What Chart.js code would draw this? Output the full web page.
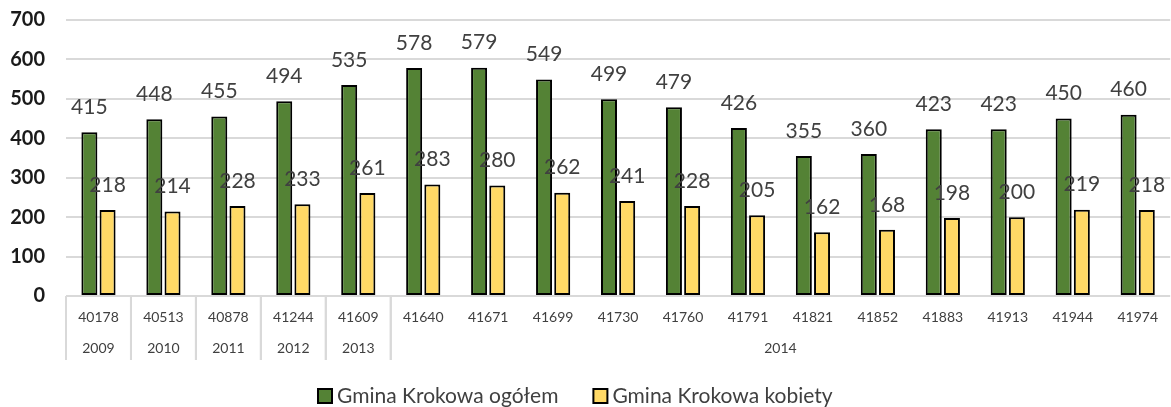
<!DOCTYPE html>
<html><head><meta charset="utf-8">
<script src="https://cdn.jsdelivr.net/npm/chart.js@4/dist/chart.umd.min.js"></script>
<style>html,body{margin:0;padding:0;background:#fff}</style>
</head><body>
<canvas id="c" width="1171" height="407"></canvas>
<script>
const categories = ['40178','40513','40878','41244','41609','41640','41671','41699','41730','41760','41791','41821','41852','41883','41913','41944','41974'];
const years = ['2009','2010','2011','2012','2013','2014','2014','2014','2014','2014','2014','2014','2014','2014','2014','2014','2014'];
const seriesNames = ['Gmina Krokowa ogółem','Gmina Krokowa kobiety'];
const totalValues = [415,448,455,494,535,578,579,549,499,479,426,355,360,423,423,450,460];
const womenValues = [218,214,228,233,261,283,280,262,241,228,205,162,168,198,200,219,218];

const FONT = 'Lato, "Open Sans", sans-serif';

const dataLabels = {
  id: 'dataLabels',
  afterDatasetsDraw(chart) {
    const ctx = chart.ctx;
    ctx.save();
    ctx.font = '21px ' + FONT;
    ctx.fillStyle = '#404040';
    ctx.textAlign = 'center';
    ctx.textBaseline = 'middle';
    chart.data.datasets.forEach((ds, di) => {
      chart.getDatasetMeta(di).data.forEach((el, i) => {
        ctx.fillText(String(ds.data[i]), el.x, el.y - 25);
      });
    });
    ctx.restore();
  }
};

const yearRow = {
  id: 'yearRow',
  afterDraw(chart) {
    const x = chart.scales.x;
    const ctx = chart.ctx;
    const half = (x.getPixelForValue(1) - x.getPixelForValue(0)) / 2;
    const groups = [];
    years.forEach((y, i) => {
      const g = groups[groups.length - 1];
      if (g && g.label === y) g.to = i; else groups.push({label: y, from: i, to: i});
    });
    ctx.save();
    ctx.strokeStyle = '#d9d9d9';
    ctx.lineWidth = 2;
    ctx.font = '14px ' + FONT;
    ctx.fillStyle = '#404040';
    ctx.textAlign = 'center';
    ctx.textBaseline = 'middle';
    const top = chart.chartArea.bottom;
    groups.forEach(g => {
      const left = x.getPixelForValue(g.from) - half;
      const right = x.getPixelForValue(g.to) + half;
      ctx.beginPath();
      ctx.moveTo(left, top);
      ctx.lineTo(left, top + 64);
      ctx.stroke();
      if (g.to < categories.length - 1) {
        ctx.beginPath();
        ctx.moveTo(right, top);
        ctx.lineTo(right, top + 64);
        ctx.stroke();
      }
      ctx.fillText(g.label, (left + right) / 2, top + 52);
    });
    ctx.restore();
  }
};

const bottomLegend = {
  id: 'bottomLegend',
  afterDraw(chart) {
    const ctx = chart.ctx;
    ctx.save();
    ctx.font = '21px ' + FONT;
    ctx.textBaseline = 'middle';
    ctx.textAlign = 'left';
    let x = 318;
    const cy = 396;
    chart.data.datasets.forEach(ds => {
      ctx.fillStyle = ds.backgroundColor;
      ctx.fillRect(x, cy - 7, 14, 14);
      ctx.strokeStyle = '#000';
      ctx.lineWidth = 2;
      ctx.strokeRect(x, cy - 7, 14, 14);
      ctx.fillStyle = '#404040';
      ctx.fillText(ds.label, x + 19, cy);
      x += 19 + ctx.measureText(ds.label).width + 35;
    });
    ctx.restore();
  }
};

new Chart(document.getElementById('c'), {
  type: 'bar',
  data: {
    labels: categories,
    datasets: [
      {label: seriesNames[0], data: totalValues, backgroundColor: '#548235', borderColor: '#000000', borderWidth: 2, borderSkipped: false, categoryPercentage: 0.56, barPercentage: 0.88},
      {label: seriesNames[1], data: womenValues, backgroundColor: '#FFD966', borderColor: '#000000', borderWidth: 2, borderSkipped: false, categoryPercentage: 0.56, barPercentage: 0.88}
    ]
  },
  options: {
    responsive: false,
    animation: false,
    devicePixelRatio: 1,
    layout: {padding: {top: 20, left: 0, right: 0, bottom: 31}},
    plugins: {
      tooltip: {enabled: false},
      legend: {display: false}
    },
    scales: {
      y: {
        min: 0, max: 700,
        ticks: {stepSize: 100, font: {family: FONT, size: 20, weight: 'bold'}, color: '#1a1a1a', padding: 0},
        grid: {color: '#d9d9d9', lineWidth: 2, drawTicks: true, tickLength: 21, tickColor: 'rgba(0,0,0,0)'},
        border: {display: false},
        afterFit(s) { s.width = 66; }
      },
      x: {
        ticks: {font: {family: FONT, size: 14}, color: '#404040', padding: 13, maxRotation: 0, autoSkip: false},
        grid: {display: false, drawTicks: false},
        border: {display: false},
        afterFit(s) { s.height = 80; }
      }
    }
  },
  plugins: [dataLabels, yearRow, bottomLegend]
});
</script>
</body></html>
